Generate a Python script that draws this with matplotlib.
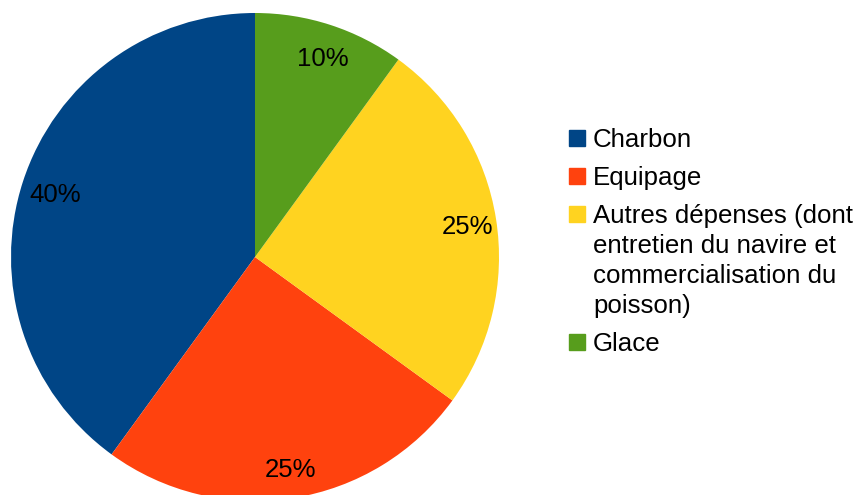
import matplotlib
matplotlib.use("Agg")
import matplotlib.pyplot as plt
from matplotlib.patches import Rectangle

plt.rcParams["font.family"] = ["Liberation Sans", "DejaVu Sans"]

labels = ["Charbon", "Equipage",
          "Autres dépenses (dont\nentretien du navire et\ncommercialisation du\npoisson)",
          "Glace"]
shares = [40, 25, 25, 10]
colors = ["#004586", "#ff420e", "#ffd320", "#579d1c"]

W, H = 858, 495
fig = plt.figure(figsize=(W / 100, H / 100), dpi=100)

# pie: centre (255, 257) px, radius 244 px
cx, cy, r = 255, 257, 244
ax = fig.add_axes([(cx - r) / W, (H - cy - r) / H, 2 * r / W, 2 * r / H])
wedges, texts, autotexts = ax.pie(
    shares, colors=colors, startangle=90, counterclock=True,
    autopct="%d%%", pctdistance=0.87, radius=1,
    textprops={"fontsize": 18.5, "color": "black"})
for t in autotexts:
    x, y = t.get_position()
    t.set_position((x + 0.01, y - 0.015))
ax.set_xlim(-1, 1)
ax.set_ylim(-1, 1)
ax.axis("off")

# legend drawn by hand, pixel layout
base = 147
for lab, col in zip(labels, colors):
    fig.patches.append(Rectangle(((569) / W, (H - base + 1) / H), 16 / W, 16 / H,
                                 transform=fig.transFigure, color=col, figure=fig))
    lines = lab.split("\n")
    for i, ln in enumerate(lines):
        fig.text(593 / W, (H - base - i * 30) / H, ln, fontsize=18.6,
                 va="baseline", ha="left")
    base += (len(lines) - 1) * 30 + 38

fig.savefig("out.png", dpi=100)
